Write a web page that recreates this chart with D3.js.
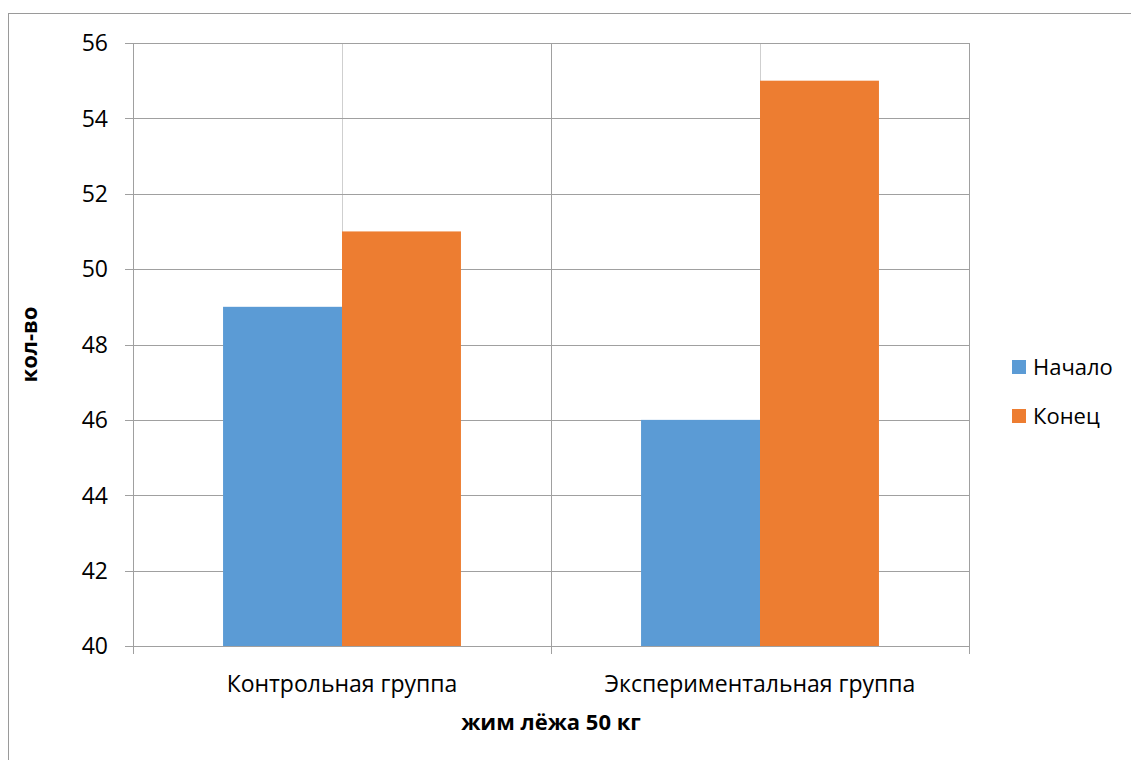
<!DOCTYPE html>
<html>
<head>
<meta charset="utf-8">
<script src="https://cdn.jsdelivr.net/npm/d3@7"></script>
<style>
  body { margin: 0; background: #fff; }
  text { font-family: "Open Sans", "Noto Sans", sans-serif; fill: #000; }
</style>
</head>
<body>
<svg id="chart"></svg>
<script>
// data
var categories = ["Контрольная группа", "Экспериментальная группа"];
var seriesNames = ["Начало", "Конец"];
var startValues = [49, 46];
var endValues = [51, 55];
var yTicks = [40, 42, 44, 46, 48, 50, 52, 54, 56];

var colours = ["#5B9BD5", "#ED7D31"];

var width = 1131, height = 760;
var plotLeft = 133, plotRight = 969, plotTop = 43, plotBottom = 646;

var svg = d3.select("#chart")
  .attr("width", width)
  .attr("height", height);

// chart border
svg.append("rect")
  .attr("x", 8.5).attr("y", 13.5)
  .attr("width", 1140).attr("height", 800)
  .attr("fill", "none")
  .attr("stroke", "#9a9a9a");

var x = d3.scaleBand()
  .domain(categories)
  .range([plotLeft, plotRight]);

var xSub = d3.scaleBand()
  .domain(seriesNames)
  .range([0, x.bandwidth()])
  .paddingInner(0)
  .paddingOuter(0.757);

var y = d3.scaleLinear()
  .domain([40, 56])
  .range([plotBottom, plotTop]);

// minor vertical gridlines (middle of each category)
svg.append("g").selectAll("line")
  .data(categories)
  .enter().append("line")
  .attr("x1", function(d) { return Math.round(x(d) + x.bandwidth() / 2) + 0.5; })
  .attr("x2", function(d) { return Math.round(x(d) + x.bandwidth() / 2) + 0.5; })
  .attr("y1", plotTop).attr("y2", plotBottom)
  .attr("stroke", "#cfcfcf").attr("stroke-width", 1);

// horizontal gridlines
svg.append("g").selectAll("line")
  .data(yTicks)
  .enter().append("line")
  .attr("x1", plotLeft - 8).attr("x2", plotRight)
  .attr("y1", function(d) { return Math.round(y(d)) + 0.5; })
  .attr("y2", function(d) { return Math.round(y(d)) + 0.5; })
  .attr("stroke", "#a0a0a0").attr("stroke-width", 1);

// major vertical gridlines (category boundaries)
var bounds = categories.map(function(d) { return x(d); }).concat([plotRight]);
svg.append("g").selectAll("line")
  .data(bounds)
  .enter().append("line")
  .attr("x1", function(d) { return Math.round(d) + 0.5; })
  .attr("x2", function(d) { return Math.round(d) + 0.5; })
  .attr("y1", plotTop).attr("y2", plotBottom + 8)
  .attr("stroke", "#a0a0a0").attr("stroke-width", 1);

// bars
var groups = svg.append("g").selectAll("g")
  .data(categories)
  .enter().append("g")
  .attr("transform", function(d) { return "translate(" + x(d) + ",0)"; });

groups.selectAll("rect")
  .data(function(d, i) {
    return [
      { s: seriesNames[0], v: startValues[i], c: colours[0] },
      { s: seriesNames[1], v: endValues[i], c: colours[1] }
    ];
  })
  .enter().append("rect")
  .attr("x", function(d) { return xSub(d.s); })
  .attr("width", xSub.bandwidth())
  .attr("y", function(d) { return y(d.v); })
  .attr("height", function(d) { return y(40) - y(d.v); })
  .attr("fill", function(d) { return d.c; });

// y tick labels
svg.append("g").selectAll("text")
  .data(yTicks)
  .enter().append("text")
  .attr("x", plotLeft - 25)
  .attr("y", function(d) { return y(d); })
  .attr("dy", "0.36em")
  .attr("text-anchor", "end")
  .style("font-size", "23px")
  .text(function(d) { return d; });

// x tick labels
svg.append("g").selectAll("text")
  .data(categories)
  .enter().append("text")
  .attr("x", function(d) { return x(d) + x.bandwidth() / 2; })
  .attr("y", 692)
  .attr("text-anchor", "middle")
  .style("font-size", "23px")
  .text(function(d) { return d; });

// axis titles
svg.append("text")
  .attr("x", (plotLeft + plotRight) / 2)
  .attr("y", 730)
  .attr("text-anchor", "middle")
  .style("font-size", "22px")
  .style("font-weight", "bold")
  .text("жим лёжа 50 кг");

svg.append("text")
  .attr("transform", "translate(37," + ((plotTop + plotBottom) / 2) + ") rotate(-90)")
  .attr("text-anchor", "middle")
  .style("font-size", "22px")
  .style("font-weight", "bold")
  .text("кол-во");

// legend
var legend = svg.append("g").selectAll("g")
  .data(seriesNames)
  .enter().append("g")
  .attr("transform", function(d, i) { return "translate(1012," + (360 + i * 49) + ")"; });

legend.append("rect")
  .attr("width", 14).attr("height", 14)
  .attr("fill", function(d, i) { return colours[i]; });

legend.append("text")
  .attr("x", 21).attr("y", 7)
  .attr("dy", "0.36em")
  .style("font-size", "22px")
  .text(function(d) { return d; });
</script>
</body>
</html>
